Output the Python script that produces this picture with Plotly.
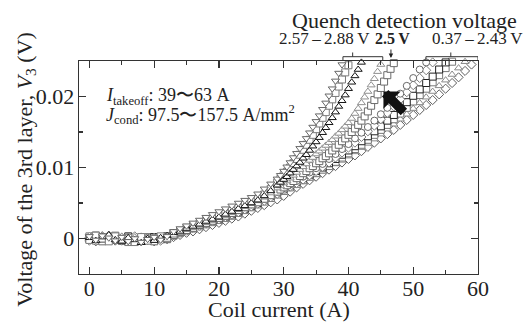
import plotly.graph_objects as go

# ---------------- data ----------------
# 1 A sampling grid (used by the slower, high-current group)
current_A = [0, 1, 2, 3, 4, 5, 6, 7, 8, 9, 10, 11, 12, 13, 14, 15, 16, 17, 18, 19,
             20, 21, 22, 23, 24, 25, 26, 27, 28, 29, 30, 31, 32, 33, 34, 35, 36, 37, 38, 39,
             40, 41, 42, 43, 44, 45, 46, 47, 48, 49, 50, 51, 52, 53, 54, 55, 56, 57, 58, 59, 60]
# denser grid above 29 A (used by the steep, low-current group)
current_fine_A = [0, 1, 2, 3, 4, 5, 6, 7, 8, 9, 10, 11, 12, 13, 14, 15, 16, 17, 18, 19,
                  20, 21, 22, 23, 24, 25, 26, 27, 28, 29,
                  29.5, 30, 30.5, 31, 31.5, 32, 32.5, 33, 33.5, 34, 34.5, 35, 35.5, 36,
                  36.5, 37, 37.5, 38, 38.5, 39, 39.5, 40, 40.5, 41, 41.5, 42, 42.5, 43,
                  43.5, 44, 44.5, 45, 45.5, 46, 46.5, 47]

# voltages in mV
v_g2a_mV = [0.2, -0.1, 0.3, -0.2, 0.1, -0.4, 0.2, -0.1, -0.3, 0.1, -0.2, 0.0, 0.2,
            0.6, 0.9, 1.3, 1.6, 1.9, 2.3, 2.6, 2.9, 3.2, 3.6, 4.0, 4.4, 4.8,
            5.2, 5.6, 6.1, 6.6, 7.1, 7.6, 8.1, 8.7, 9.3, 9.9, 10.5, 11.2, 11.9, 12.6, 13.3,
            14.1, 14.9, 15.7, 16.6, 17.5, 18.4, 19.4, 20.4, 21.5, 22.6, 23.8, 24.8]
v_g2b_mV = [-0.3, 0.1, 0.0, 0.3, -0.2, 0.0, -0.2, 0.3, -0.4, -0.2, 0.1, -0.3, 0.0,
            0.5, 0.8, 1.1, 1.5, 1.8, 2.1, 2.4, 2.7, 3.0, 3.4, 3.7, 4.1, 4.5,
            4.9, 5.3, 5.8, 6.3, 6.8, 7.3, 7.8, 8.3, 8.9, 9.5, 10.1, 10.7, 11.4, 12.1, 12.8,
            13.5, 14.3, 15.1, 15.9, 16.8, 17.7, 18.6, 19.6, 20.6, 21.6, 22.6, 23.7, 24.8]
v_g2c_mV = [0.0, 0.4, -0.2, 0.1, -0.1, -0.3, 0.3, -0.4, 0.0, -0.2, 0.2, -0.1, 0.3,
            0.7, 1.0, 1.3, 1.6, 1.9, 2.2, 2.5, 2.8, 3.1, 3.4, 3.8, 4.2, 4.6,
            5.0, 5.5, 6.0, 6.5, 7.0, 7.5, 8.0, 8.5, 9.0, 9.5, 10.0, 10.6, 11.2, 11.8, 12.4,
            13.0, 13.7, 14.4, 15.1, 15.8, 16.6, 17.4, 18.3, 19.2, 20.1, 21.0, 21.9, 22.8,
            23.8, 24.8]
v_g2d_mV = [0.3, -0.3, 0.1, -0.1, 0.2, -0.2, -0.5, 0.1, -0.2, 0.2, -0.3, 0.1, -0.1,
            0.4, 0.8, 1.1, 1.4, 1.7, 2.0, 2.3, 2.6, 2.9, 3.2, 3.6, 4.0, 4.4,
            4.8, 5.2, 5.7, 6.2, 6.7, 7.2, 7.7, 8.2, 8.7, 9.2, 9.7, 10.2, 10.8, 11.4, 12.0,
            12.6, 13.2, 13.9, 14.6, 15.3, 16.0, 16.8, 17.6, 18.4, 19.3, 20.2, 21.1, 22.0,
            23.0, 24.0, 24.9]
v_g2e_mV = [-0.2, 0.2, 0.5, -0.1, 0.0, 0.2, -0.1, -0.3, 0.3, -0.5, 0.0, 0.2, -0.2,
            0.5, 0.9, 1.2, 1.5, 1.8, 2.1, 2.4, 2.7, 3.0, 3.3, 3.6, 4.0, 4.4,
            4.7, 5.1, 5.5, 6.0, 6.5, 7.0, 7.5, 8.0, 8.5, 9.0, 9.5, 10.0, 10.5, 11.0, 11.6,
            12.2, 12.8, 13.4, 14.0, 14.7, 15.4, 16.1, 16.8, 17.5, 18.3, 19.1, 19.9, 20.7,
            21.5, 22.3, 23.1, 24.0, 24.9]
v_g2f_mV = [0.1, -0.4, 0.2, 0.4, -0.3, 0.1, 0.0, -0.2, 0.1, -0.1, -0.4, 0.0, -0.1,
            0.2, 0.5, 0.8, 1.0, 1.3, 1.6, 1.9, 2.2, 2.5, 2.8, 3.1, 3.5, 3.9,
            4.3, 4.7, 5.1, 5.5, 6.0, 6.6, 7.2, 7.7, 8.2, 8.7, 9.2, 9.7, 10.2, 10.7, 11.2,
            11.7, 12.3, 12.9, 13.5, 14.1, 14.7, 15.3, 16.0, 16.7, 17.4, 18.1, 18.8, 19.5,
            20.3, 21.1, 21.9, 22.7, 23.6, 24.5]
# low-current group (on current_fine_A)
v_g1a_mV = [0.3, -0.2, 0.4, 0.1, -0.3, 0.2, -0.4, 0.0, -0.5, -0.1, 0.2, -0.2, 0.3,
            1.0, 1.4, 1.8, 2.2, 2.6, 3.0, 3.4, 3.8, 4.2, 4.6, 5.0, 5.4, 5.8,
            6.3, 7.0, 7.7, 8.4,
            8.9, 9.5, 10.1, 10.7, 11.4, 12.0, 12.7, 13.4, 14.1, 14.9, 15.7, 16.5, 17.3,
            18.2, 19.1, 20.1, 21.1, 22.2, 23.3, 24.5]
v_g1b_mV = [-0.2, 0.4, 0.0, -0.4, 0.3, -0.1, 0.1, -0.5, 0.2, -0.3, 0.0, 0.3, 0.1,
            0.7, 1.1, 1.5, 1.8, 2.1, 2.5, 2.8, 3.2, 3.5, 3.9, 4.3, 4.8, 5.2,
            5.6, 6.2, 7.0, 7.9,
            8.4, 8.9, 9.4, 10.0, 10.6, 11.2, 11.8, 12.5, 13.2, 13.9, 14.6, 15.4, 16.2,
            17.0, 17.8, 18.7, 19.6, 20.5, 21.4, 22.4, 23.4, 24.4]
v_g1c_mV = [0.1, -0.3, 0.2, 0.5, -0.2, -0.4, 0.1, -0.2, -0.6, 0.0, -0.3, 0.1, 0.4,
            0.8, 1.0, 1.4, 1.7, 2.0, 2.4, 2.7, 3.0, 3.4, 3.8, 4.2, 4.6, 5.0,
            5.4, 6.0, 6.7, 7.5,
            7.9, 8.3, 8.7, 9.2, 9.7, 10.2, 10.7, 11.3, 11.8, 12.4, 13.0, 13.6, 14.2,
            14.9, 15.6, 16.3, 17.0, 17.8, 18.6, 19.4, 20.2, 21.1, 22.0, 22.9, 23.8, 24.8]
v_g1d_mV = [0.4, 0.0, -0.3, 0.2, 0.0, 0.3, -0.3, 0.2, -0.1, -0.4, 0.1, -0.1, 0.2,
            0.6, 0.9, 1.3, 1.6, 2.0, 2.3, 2.6, 3.0, 3.3, 3.7, 4.1, 4.5, 4.9,
            5.3, 5.8, 6.4, 7.1,
            7.4, 7.8, 8.1, 8.5, 8.9, 9.3, 9.7, 10.1, 10.5, 11.0, 11.4, 11.9, 12.3,
            12.7, 13.1, 13.5, 13.9, 14.4, 14.8, 15.3, 15.8, 16.3, 16.9, 17.6, 18.3,
            19.1, 19.9, 20.7, 21.6, 22.5, 23.5, 24.5]
v_arrow_mV = [-0.1, 0.3, -0.4, 0.0, 0.4, -0.2, 0.0, -0.3, 0.1, -0.2, -0.4, 0.2, 0.0,
              0.5, 0.9, 1.2, 1.5, 1.9, 2.2, 2.5, 2.9, 3.2, 3.6, 4.0, 4.4, 4.8,
              5.1, 5.6, 6.1, 6.6,
              6.9, 7.2, 7.5, 7.8, 8.1, 8.5, 8.8, 9.2, 9.5, 9.9, 10.2, 10.6, 10.9,
              11.3, 11.6, 12.0, 12.4, 12.8, 13.2, 13.7, 14.1, 14.6, 15.0, 15.5, 16.0,
              16.6, 17.2, 17.9, 18.7, 19.5, 20.3, 21.2, 22.1, 23.0, 23.9, 24.7]

x_tick_vals = [0, 10, 20, 30, 40, 50, 60]
y_tick_vals = [0, 0.01, 0.02]
y_tick_text = ["0", "0.01", "0.02"]

# ---------------- styling ----------------
series = [
    (current_A, v_g2f_mV, "diamond", "#5e5e5e"),
    (current_A, v_g2e_mV, "triangle-up", "#8a8a8a"),
    (current_A, v_g2d_mV, "square", "#787878"),
    (current_A, v_g2c_mV, "square", "#222222"),
    (current_A, v_g2b_mV, "diamond", "#7a7a7a"),
    (current_A, v_g2a_mV, "circle", "#686868"),
    (current_fine_A, v_arrow_mV, "square", "#6a6a6a"),
    (current_fine_A, v_g1d_mV, "triangle-up", "#909090"),
    (current_fine_A, v_g1b_mV, "square", "#7a7a7a"),
    (current_fine_A, v_g1c_mV, "triangle-up", "#151515"),
    (current_fine_A, v_g1a_mV, "triangle-down", "#686868"),
]

FONT = "Liberation Serif"
INK = "#222222"
AX = 22

fig = go.Figure()
for xs, vals, sym, col in series:
    fig.add_trace(go.Scatter(
        x=xs[:len(vals)],
        y=[v / 1000.0 for v in vals],
        mode="markers",
        cliponaxis=False,
        showlegend=False,
        hoverinfo="skip",
        marker=dict(symbol=sym, size=7, color="white",
                    line=dict(color=col, width=1)),
    ))

axis_common = dict(
    showline=True, linecolor="#333333", linewidth=1.3, mirror="allticks",
    ticks="inside", ticklen=7, tickwidth=1.2, tickcolor="#333333",
    showgrid=False, zeroline=False, automargin=False,
    tickfont=dict(family=FONT, size=AX, color=INK),
)

fig.update_xaxes(
    range=[-1.6, 60], tickmode="array", tickvals=x_tick_vals,
    ticklabelstandoff=-6,
    minor=dict(dtick=5, tick0=0, ticks="inside", ticklen=4, tickwidth=1.1,
               tickcolor="#333333", showgrid=False),
    **axis_common,
)
fig.update_yaxes(
    range=[-0.005, 0.025], tickmode="array", tickvals=y_tick_vals, ticktext=y_tick_text,
    ticklabelstandoff=-1,
    minor=dict(dtick=0.005, tick0=0, ticks="inside", ticklen=4, tickwidth=1.1,
               tickcolor="#333333", showgrid=False),
    **axis_common,
)

ann_font = dict(family=FONT, size=17, color=INK)
TS = "\u2009"  # thin space
annotations = [
    dict(text="Coil current (A)", xref="paper", yref="paper", x=0.5, y=-0.169,
         xanchor="center", yanchor="middle", showarrow=False,
         font=dict(family=FONT, size=AX, color=INK)),
    dict(text="Voltage of the 3rd layer, <i>V</i><sub>3</sub> (V)", xref="paper",
         yref="paper", x=-0.135, y=0.49, xanchor="center", yanchor="middle",
         textangle=-90, showarrow=False, font=dict(family=FONT, size=AX, color=INK)),
    dict(text="Quench detection voltage", xref="paper", yref="paper", x=0.817, y=1.19,
         xanchor="center", yanchor="middle", showarrow=False,
         font=dict(family=FONT, size=22, color=INK)),
    dict(text=f"2.57{TS}–{TS}2.88{TS}V", xref="paper", yref="paper", x=0.616, y=1.106,
         xanchor="center", yanchor="middle", showarrow=False, font=ann_font),
    dict(text=f"<b>2.5{TS}V</b>", xref="paper", yref="paper", x=0.786, y=1.106,
         xanchor="center", yanchor="middle", showarrow=False,
         font=dict(family=FONT, size=16, color=INK)),
    dict(text=f"0.37{TS}–{TS}2.43{TS}V", xref="paper", yref="paper", x=0.999, y=1.106,
         xanchor="center", yanchor="middle", showarrow=False, font=ann_font),
    dict(text="<i>I</i><sub>takeoff</sub>: 39〜63 A", xref="paper", yref="paper",
         x=0.063, y=0.832, xanchor="left", yanchor="middle", showarrow=False,
         font=dict(family=FONT, size=18, color=INK)),
    dict(text="<i>J</i><sub>cond</sub>: 97.5〜157.5 A/mm<sup>2</sup>", xref="paper",
         yref="paper", x=0.063, y=0.751, xanchor="left", yanchor="middle",
         showarrow=False, font=dict(family=FONT, size=18, color=INK)),
    # small arrow under "2.5 V"
    dict(text="", xref="x", yref="paper", x=46.56, y=1.014, ax=0, ay=-10,
         showarrow=True, arrowhead=2, arrowsize=0.9, arrowwidth=1, arrowcolor="#222222"),
    # big block arrow
    dict(text="", xref="x", yref="y", x=45.4, y=0.0207, ax=22, ay=22,
         showarrow=True, arrowhead=1, arrowsize=0.45, arrowwidth=9, arrowcolor="#111111"),
]
fig.update_layout(annotations=annotations)

# brackets over the quench groups
bracket_line = dict(color="#333333", width=1)
for x1, x2, xc in [(39.15, 45.3, 40.65), (51.96, 60.0, 55.8)]:
    fig.add_shape(type="path", xref="x", yref="paper",
                  path=f"M {x1},1.0047 L {x1},1.0202 L {x2},1.0202 L {x2},1.0047 "
                       f"M {xc},1.0202 L {xc},1.040",
                  line=bracket_line)

fig.update_layout(
    width=532, height=323,
    margin=dict(l=79, r=54, t=61, b=49),
    paper_bgcolor="white", plot_bgcolor="white",
    font=dict(family=FONT, size=AX, color=INK),
    hovermode=False,
)

# remove the default 8 px page margin so the figure fills the window exactly
fig.write_html("out.html",
               config={"displayModeBar": False, "staticPlot": True},
               post_script="document.body.style.margin='0';document.body.style.overflow='hidden';")
